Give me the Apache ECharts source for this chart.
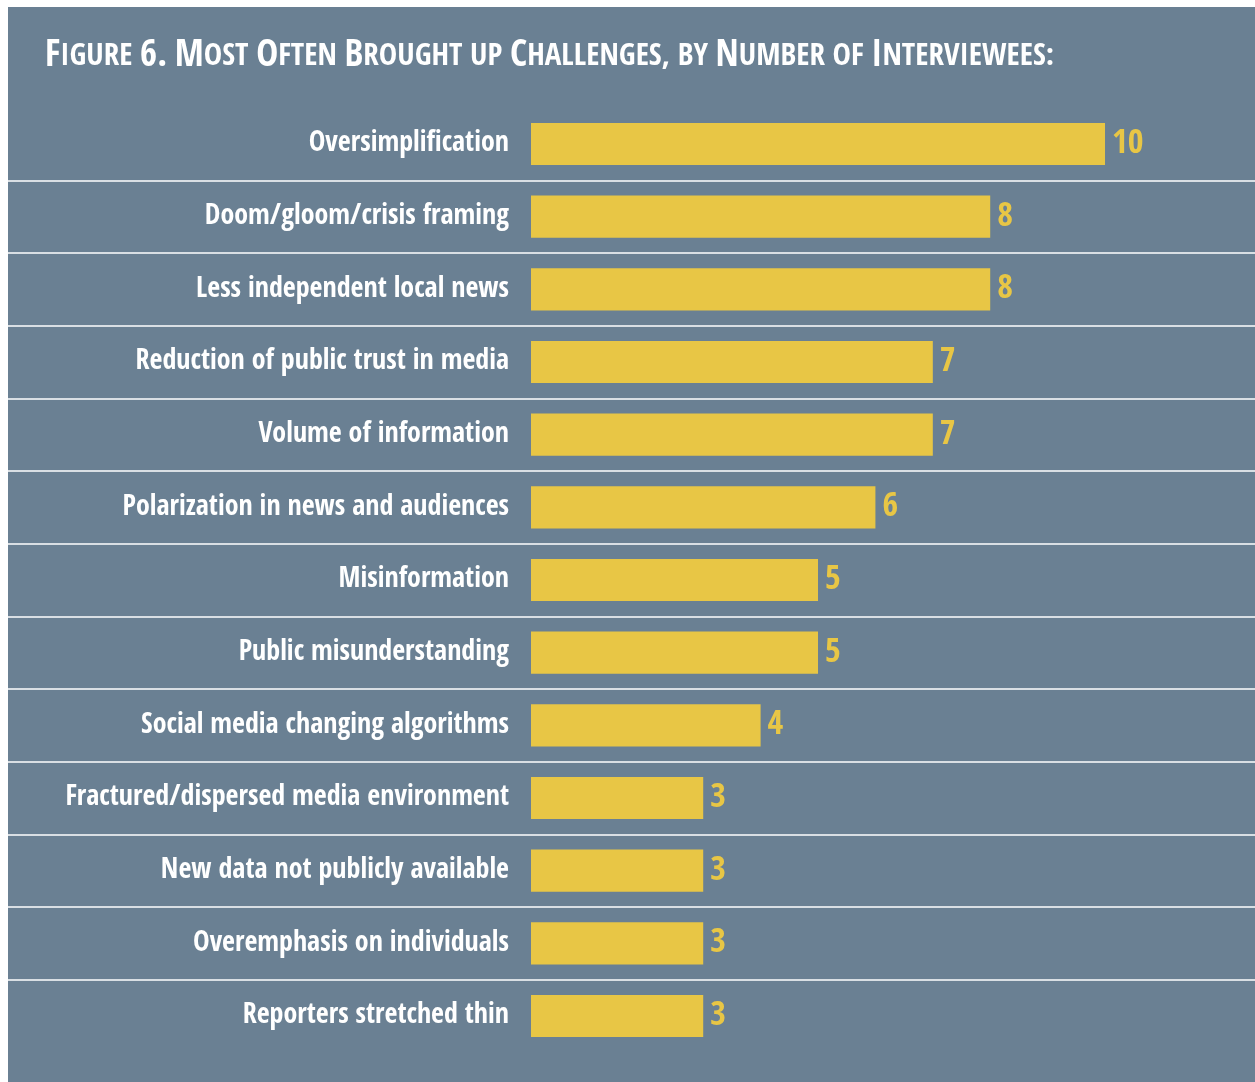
<!DOCTYPE html>
<html><head><meta charset="utf-8">
<script src="https://cdn.jsdelivr.net/npm/echarts@6/dist/echarts.min.js"></script>
<style>
html,body{margin:0;padding:0;background:#fff;width:1255px;height:1082px;overflow:hidden}
#c{position:absolute;left:8px;top:7px;width:1247px;height:1075px}
</style></head><body>
<div id="c"></div>
<script>
const titleText = 'Figure 6. Most Often Brought up Challenges, by Number of Interviewees:';
const categories = [
  'Oversimplification',
  'Doom/gloom/crisis framing',
  'Less independent local news',
  'Reduction of public trust in media',
  'Volume of information',
  'Polarization in news and audiences',
  'Misinformation',
  'Public misunderstanding',
  'Social media changing algorithms',
  'Fractured/dispersed media environment',
  'New data not publicly available',
  'Overemphasis on individuals',
  'Reporters stretched thin'
];
const values = [10, 8, 8, 7, 7, 6, 5, 5, 4, 3, 3, 3, 3];

const FONT = '"Open Sans Condensed", "Roboto Condensed", "DejaVu Sans Condensed", sans-serif';
const BG = '#6a8093';
const BAR = '#e8c645';

// small-caps title as rich text
function smallCaps(s) {
  let out = '', run = '', mode = null;
  const flush = () => { if (run) out += '{' + mode + '|' + run + '}'; run = ''; };
  for (const ch of s) {
    const m = /[A-Z0-9.]/.test(ch) ? 'a' : 'b';
    if (m !== mode) { flush(); mode = m; }
    run += m === 'a' ? ch : ch.toUpperCase();
  }
  flush();
  return out;
}

const chart = echarts.init(document.getElementById('c'), null, {renderer: 'canvas'});
chart.setOption({
  backgroundColor: BG,
  animation: false,
  title: {
    text: smallCaps(titleText),
    left: 32, top: 26,
    textStyle: {
      rich: {
        a: {fontFamily: FONT, fontWeight: 'bold', fontSize: 37, color: '#fff'},
        b: {fontFamily: FONT, fontWeight: 'bold', fontSize: 31, color: '#fff'}
      }
    }
  },
  grid: {left: 0, right: 0, top: 100.7, bottom: 29.7, containLabel: false, outerBoundsMode: 'none'},
  xAxis: {
    type: 'value', min: -9.1115, max: 12.613, show: false
  },
  yAxis: {
    type: 'category', data: categories, inverse: true,
    axisLine: {show: false, onZero: false}, axisTick: {show: false},
    axisLabel: {
      inside: true, margin: 501, align: 'right', padding: [6, 0, 0, 0],
      color: '#fff', fontFamily: FONT, fontWeight: 'bold', fontSize: 28
    },
    splitLine: {show: true, showMinLine: false, showMaxLine: false,
      lineStyle: {color: '#ffffff', width: 1.5}}
  },
  series: [{
    type: 'bar', data: values, barWidth: '58%',
    itemStyle: {color: BAR},
    label: {
      show: true, position: 'right', distance: 7,
      color: BAR, fontFamily: FONT, fontWeight: 'bold', fontSize: 34
    }
  }]
});
</script>
</body></html>
